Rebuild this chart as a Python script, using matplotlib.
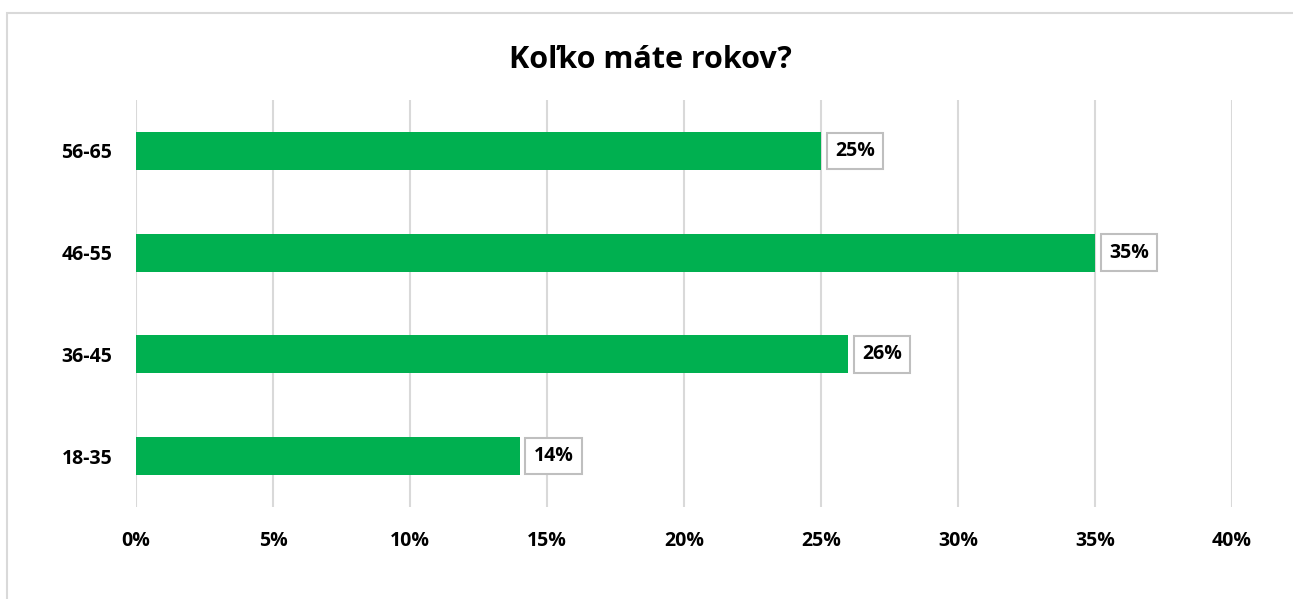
import matplotlib
matplotlib.use("Agg")
import matplotlib.pyplot as plt
from matplotlib.patches import Rectangle
from matplotlib.ticker import FuncFormatter

categories = ["18-35", "36-45", "46-55", "56-65"]
values = [14, 26, 35, 25]
xticks = [0, 5, 10, 15, 20, 25, 30, 35, 40]
title = "Koľko máte rokov?"

FONT = ["Open Sans", "DejaVu Sans"]
plt.rcParams["font.family"] = FONT
plt.rcParams["font.weight"] = "bold"

fig = plt.figure(figsize=(12.93, 5.99), dpi=100)
fig.patch.set_facecolor("white")
fig.patches.append(Rectangle((7/1293, -0.1), 1.2, 1.1 - 13/599, transform=fig.transFigure,
                             fill=False, edgecolor="#d9d9d9", linewidth=1.5, zorder=0))

ax = fig.add_axes([136/1293, 1 - 507/599, (1232 - 136)/1293, (507 - 100)/599])
y = list(range(len(categories)))
ax.barh(y, values, height=0.373, color="#00B050", zorder=3)
ax.set_xlim(0, 40)
ax.set_ylim(-0.5, len(categories) - 0.5)
ax.set_xticks(xticks)
ax.xaxis.set_major_formatter(FuncFormatter(lambda v, p: f"{int(v)}%"))
ax.set_yticks(y)
ax.set_yticklabels(categories)
for s in ax.spines.values():
    s.set_visible(False)
ax.tick_params(axis="both", length=0, labelsize=14)
ax.tick_params(axis="x", pad=17)
ax.tick_params(axis="y", pad=17)
for lab in ax.get_xticklabels() + ax.get_yticklabels():
    lab.set_fontweight("bold")
    lab.set_color("#000000")
ax.grid(axis="x", color="#d9d9d9", linewidth=1.5, zorder=0)
ax.set_axisbelow(True)

for yi, v in zip(y, values):
    ax.annotate(f"{v}%", xy=(v, yi), xytext=(10, 0), textcoords="offset points",
                ha="left", va="center", fontsize=14, fontweight="bold", color="#000000",
                bbox=dict(boxstyle="square,pad=0.42", facecolor="white", edgecolor="#bfbfbf", linewidth=1.5),
                zorder=4)

fig.text(650/1293, 1 - 60/599, title, ha="center", va="center", fontsize=22, fontweight="bold", color="#000000")

fig.savefig("out.png", dpi=100, facecolor="white")
